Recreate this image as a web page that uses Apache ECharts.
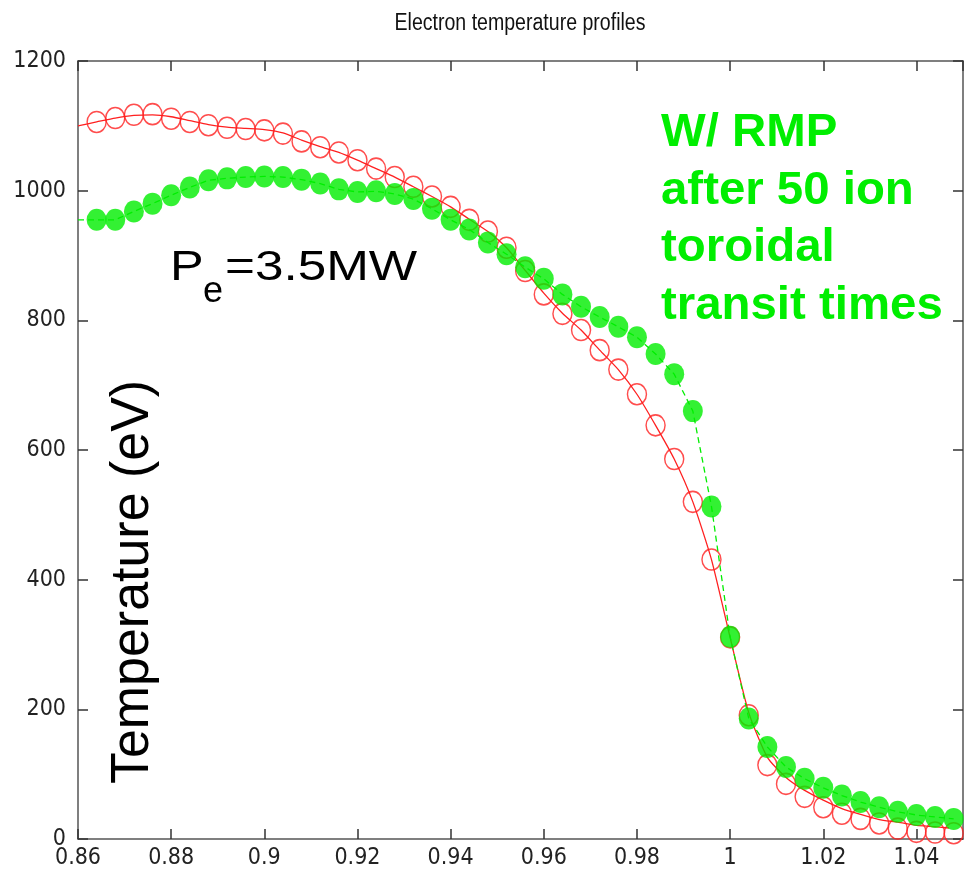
<!DOCTYPE html>
<html>
<head>
<meta charset="utf-8">
<script src="https://cdn.jsdelivr.net/npm/echarts@6/dist/echarts.min.js"></script>
<style>
html,body{margin:0;padding:0;background:#fff;}
#chart{width:965px;height:876px;}
</style>
</head>
<body>
<div id="chart"></div>
<script>
// ---- data ----
const xPoints = [0.864,0.868,0.872,0.876,0.880,0.884,0.888,0.892,0.896,0.900,
  0.904,0.908,0.912,0.916,0.920,0.924,0.928,0.932,0.936,0.940,
  0.944,0.948,0.952,0.956,0.960,0.964,0.968,0.972,0.976,0.980,
  0.984,0.988,0.992,0.996,1.000,1.004,1.008,1.012,1.016,1.020,
  1.024,1.028,1.032,1.036,1.040,1.044,1.048];

const redCircles = [1106,1112,1117,1118,1111,1106,1101,1097,1095,1093,
  1088,1076,1067,1059,1047,1034,1021,1006,991,975,
  955,937,912,876,840,810,785,754,724,686,
  638,586,520,431,311,191,114,85,65,49,
  39,31,24,16,11,10,9];

const greenDots = [955,955,968,980,993,1005,1016,1019,1021,1022,
  1021,1017,1011,1002,998,999,995,987,972,955,
  940,920,902,882,864,840,821,805,790,774,
  748,717,660,513,312,186,142,111,93,79,
  67,57,49,42,37,34,31];

const redFitX = [0.860,0.864,0.868,0.872,0.876,0.880,0.884,0.888,0.892,0.896,0.900,
  0.904,0.908,0.912,0.916,0.920,0.924,0.928,0.932,0.936,0.940,
  0.944,0.948,0.952,0.956,0.960,0.964,0.968,0.972,0.976,0.980,
  0.984,0.988,0.992,0.996,1.000,1.004,1.008,1.012,1.016,1.020,
  1.024,1.028,1.032,1.036,1.040,1.044,1.047];
const redFitY = [1100,1106,1112,1116,1117,1114,1108,1102,1098,1096,1094,
  1089,1078,1068,1059,1047,1034,1021,1006,991,975,
  956,937,912,877,842,811,785,754,724,686,
  638,586,520,431,311,195,126,95,75,60,
  47,38,30,26,21,19,17];

const greenStartX = 0.86;
const greenStartY = 955;

const xTicks = {min: 0.86, max: 1.05, step: 0.02};
const yTicks = {min: 0, max: 1200, step: 200};

// ---- build ----
const redPts = xPoints.map((x, i) => [x, redCircles[i]]);
const greenPts = xPoints.map((x, i) => [x, greenDots[i]]);
const redFit = redFitX.map((x, i) => [x, redFitY[i]]);
const greenLine = [[greenStartX, greenStartY]].concat(greenPts);

const labelFont = "'Liberation Sans Narrow','Arial Narrow','DejaVu Sans Condensed','Liberation Sans',Arial,sans-serif";
const mainFont = "'Liberation Sans',Arial,Helvetica,sans-serif";
const RED = '#ff2020';
const GREEN = '#00ee00';

const axisLineStyle = {color: '#555', width: 1.5};
const tickStyle = {inside: true, length: 10, lineStyle: {color: '#333', width: 1.5}};

const chart = echarts.init(document.getElementById('chart'), null, {renderer: 'canvas'});

function txt(text, x, y, size, opts) {
  opts = opts || {};
  return {
    type: 'text', x: x, y: y,
    rotation: opts.rotation || 0,
    scaleX: opts.scaleX || 1,
    z: 100,
    style: {
      text: text,
      fill: opts.color || '#000',
      fontSize: size,
      fontFamily: mainFont,
      fontWeight: opts.bold ? 'bold' : 'normal',
      align: opts.align || 'left',
      verticalAlign: 'middle',
      textAlign: opts.align || 'left',
      textVerticalAlign: 'middle'
    }
  };
}

const option = {
  animation: false,
  backgroundColor: '#fff',
  grid: {left: 78, right: 2, top: 61, bottom: 37, containLabel: false},
  xAxis: [{
    type: 'value', position: 'bottom', min: xTicks.min, max: xTicks.max, interval: xTicks.step,
    axisLine: {show: true, onZero: false, lineStyle: axisLineStyle},
    axisTick: tickStyle,
    axisLabel: {color: '#222', fontSize: 23, fontFamily: labelFont, margin: 8,
      showMaxLabel: false,
      formatter: v => String(+(+v).toFixed(3))},
    splitLine: {show: false}
  }, {
    type: 'value', position: 'top', min: xTicks.min, max: xTicks.max, interval: xTicks.step,
    axisLine: {show: true, onZero: false, lineStyle: axisLineStyle},
    axisTick: tickStyle,
    axisLabel: {show: false},
    splitLine: {show: false}
  }],
  yAxis: [{
    type: 'value', position: 'left', min: yTicks.min, max: yTicks.max, interval: yTicks.step,
    axisLine: {show: true, onZero: false, lineStyle: axisLineStyle},
    axisTick: tickStyle,
    axisLabel: {color: '#222', fontSize: 23, fontFamily: labelFont, margin: 12,
      formatter: v => String(v)},
    splitLine: {show: false}
  }, {
    type: 'value', position: 'right', min: yTicks.min, max: yTicks.max, interval: yTicks.step,
    axisLine: {show: true, onZero: false, lineStyle: axisLineStyle},
    axisTick: tickStyle,
    axisLabel: {show: false},
    splitLine: {show: false}
  }],
  series: [{
    name: 'fit', type: 'line', data: redFit, smooth: 0.2,
    showSymbol: false, symbol: 'none',
    lineStyle: {color: RED, width: 1.3}, z: 2
  }, {
    name: 'no RMP', type: 'scatter', data: redPts,
    symbol: 'circle', symbolSize: [19, 21], clip: false,
    itemStyle: {color: 'rgba(255,255,255,0)', borderColor: RED, borderWidth: 1.5},
    z: 3
  }, {
    name: 'RMP line', type: 'line', data: greenLine,
    showSymbol: false, symbol: 'none',
    lineStyle: {color: GREEN, width: 1.3, type: [6, 4]}, z: 4
  }, {
    name: 'W/ RMP', type: 'scatter', data: greenPts,
    symbol: 'circle', symbolSize: [20, 22], clip: false,
    itemStyle: {color: GREEN}, z: 5
  }],
  graphic: [
    txt('Electron temperature profiles', 520, 23.5, 23, {align: 'center', scaleX: 0.85, color: '#111'}),
    txt('Temperature (eV)', 133, 582, 53, {align: 'center', rotation: Math.PI / 2, scaleX: 0.98}),
    txt('P', 170, 268, 42, {scaleX: 1.2}),
    txt('e', 203, 292, 36),
    txt('=3.5MW', 225, 268, 42, {scaleX: 1.22}),
    txt('W/ RMP', 661, 133.5, 46, {bold: true, color: GREEN, scaleX: 1.03}),
    txt('after 50 ion', 661, 191, 46, {bold: true, color: GREEN, scaleX: 1.03}),
    txt('toroidal', 661, 248.5, 46, {bold: true, color: GREEN, scaleX: 1.03}),
    txt('transit times', 661, 306, 46, {bold: true, color: GREEN, scaleX: 1.03})
  ]
};
chart.setOption(option);
</script>
</body>
</html>
